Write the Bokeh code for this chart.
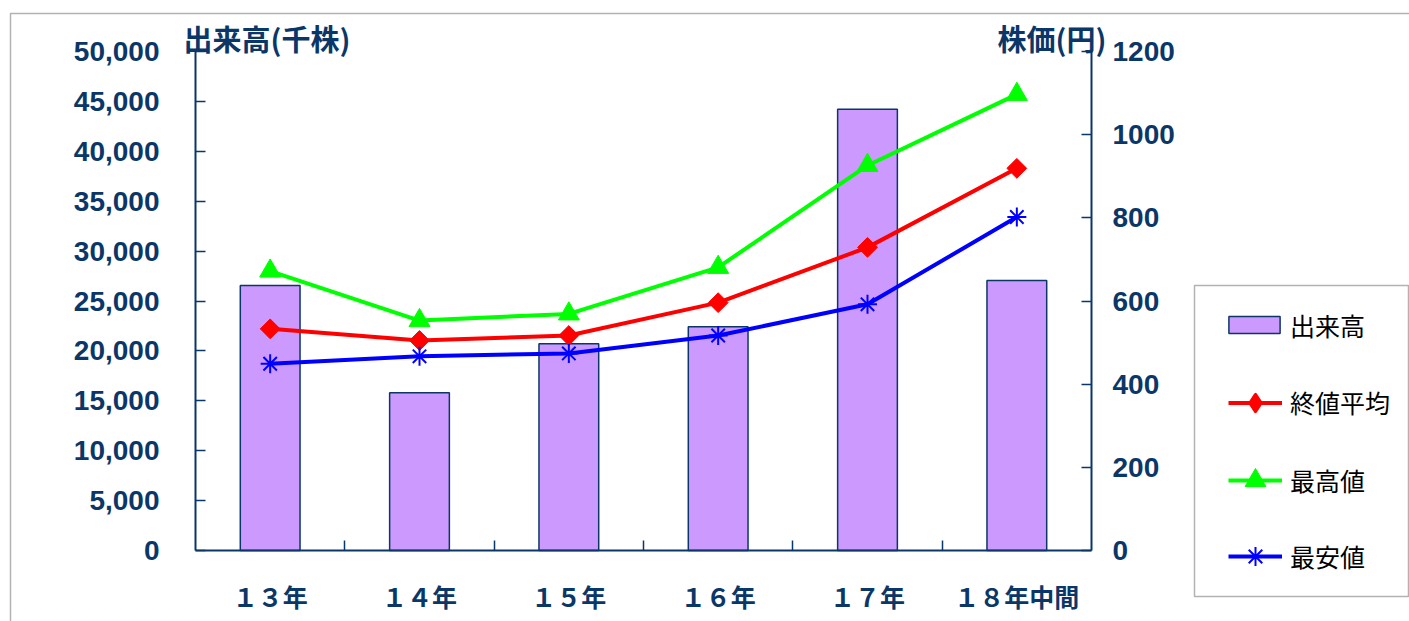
from math import pi
from bokeh.plotting import figure
from bokeh.models import (Range1d, LinearAxis, FixedTicker, NumeralTickFormatter,
                          Legend, LegendItem, Label, BoxAnnotation)
from bokeh.embed import file_html
from bokeh.resources import INLINE

categories = ["１３年", "１４年", "１５年", "１６年", "１７年", "１８年中間"]
volume = [26550, 15800, 20710, 22420, 44220, 27050]      # 出来高 (千株)
close_avg = [533, 505, 517, 596, 729, 919]                 # 終値平均 (円)
high = [672, 553, 569, 681, 926, 1097]                     # 最高値 (円)
low = [449, 467, 474, 517, 592, 802]                       # 最安値 (円)
left_ticks = list(range(0, 50001, 5000))
right_ticks = list(range(0, 1201, 200))
VOL_MAX = 50000
PRICE_MAX = 1200

NAVY = "#0B3768"
W, H = 1409, 621
# plot-area placement inside the canvas (pixels)
PX_L, PX_R, PX_T, PX_B = 195, 1091, 51, 550
n = len(categories)
xs = [i + 0.5 for i in range(n)]

cat_px = (PX_R - PX_L) / n
x_start = -PX_L / cat_px
x_end = n + (W - PX_R) / cat_px
ph = PX_B - PX_T
y_start = -(H - PX_B) / ph * VOL_MAX
y_end = VOL_MAX + PX_T / ph * VOL_MAX
p_start = -(H - PX_B) / ph * PRICE_MAX
p_end = PRICE_MAX + PX_T / ph * PRICE_MAX

p = figure(width=W, height=H, output_backend="svg", toolbar_location=None,
           x_range=Range1d(x_start, x_end), y_range=Range1d(y_start, y_end),
           x_axis_location=None, y_axis_location=None,
           min_border=0, background_fill_color="white", border_fill_color="white")
p.outline_line_color = None
p.xgrid.visible = False
p.ygrid.visible = False
p.extra_y_ranges = {"price": Range1d(p_start, p_end)}


def style_axis(ax):
    ax.axis_line_color = NAVY
    ax.axis_line_width = 2
    ax.major_tick_line_color = NAVY
    ax.major_tick_line_width = 1.5
    ax.minor_tick_line_color = None
    ax.major_label_text_color = NAVY


# left axis
ya = LinearAxis(fixed_location=0, bounds=(0, VOL_MAX),
                ticker=FixedTicker(ticks=left_ticks),
                formatter=NumeralTickFormatter(format="0,0"))
style_axis(ya)
ya.major_tick_in = 10
ya.major_tick_out = 0
ya.major_label_standoff = 36
ya.major_label_text_font = "Liberation Sans"
ya.major_label_text_font_style = "bold"
ya.major_label_text_font_size = "28px"
p.add_layout(ya, "left")

# right axis
ra = LinearAxis(y_range_name="price", fixed_location=n, bounds=(0, PRICE_MAX),
                ticker=FixedTicker(ticks=right_ticks))
style_axis(ra)
ra.major_tick_in = 10
ra.major_tick_out = 0
ra.major_label_standoff = 21
ra.major_label_text_font = "Liberation Sans"
ra.major_label_text_font_style = "bold"
ra.major_label_text_font_size = "28px"
p.add_layout(ra, "right")

# x axis
xa = LinearAxis(fixed_location=0, bounds=(0, n),
                ticker=FixedTicker(ticks=xs, minor_ticks=list(range(1, n))))
style_axis(xa)
xa.major_label_overrides = {xv: c for xv, c in zip(xs, categories)}
xa.major_tick_in = 0
xa.major_tick_out = 0
xa.minor_tick_in = 10
xa.minor_tick_out = 0
xa.minor_tick_line_color = NAVY
xa.minor_tick_line_width = 1.5
xa.major_label_standoff = 27
xa.major_label_text_font = "Noto Sans CJK JP"
xa.major_label_text_font_style = "bold"
xa.major_label_text_font_size = "25px"
p.add_layout(xa, "below")

bars = p.vbar(x=xs, top=volume, width=0.4, fill_color="#CC99FF",
              line_color=NAVY, line_width=1.5)

l1 = p.line(xs, close_avg, y_range_name="price", line_color="#FF0000", line_width=4)
s1 = p.scatter(xs, close_avg, y_range_name="price", marker="square", angle=pi / 4,
               size=14, fill_color="#FF0000", line_color="#FF0000")
# legend markers are drawn without rotation, so the legend uses a diamond marker
s1_key = p.scatter(xs, close_avg, y_range_name="price", marker="diamond",
                   fill_color="#FF0000", line_color="#FF0000", line_width=3,
                   line_join="round", visible=False)
l2 = p.line(xs, high, y_range_name="price", line_color="#00FF00", line_width=4)
s2 = p.scatter(xs, high, y_range_name="price", marker="triangle", size=21,
               fill_color="#00FF00", line_color="#00FF00")
l3 = p.line(xs, low, y_range_name="price", line_color="#0000FF", line_width=4)
s3 = p.scatter(xs, low, y_range_name="price", marker="asterisk", size=19,
               line_color="#0000FF", line_width=2)

# legend: one Legend per entry (each needs its own glyph size), framed by a box
legend_specs = [
    # label, renderers, glyph_w, glyph_h, label_h, x_left, y_center, standoff
    ("出来高", [bars], 64, 21, 21, 1222, 332, 4),
    ("終値平均", [l1, s1_key], 54, 43, 25, 1228, 402, 8),
    ("最高値", [l2, s2], 54, 52, 25, 1228, 480, 8),
    ("最安値", [l3, s3], 54, 48, 25, 1228, 556, 8),
]
for label, rends, gw, gh, lh, lx, cy, so in legend_specs:
    hh = max(gh, lh)
    lg = Legend(items=[LegendItem(label=label, renderers=rends)],
                location=(lx, H - cy - hh / 2), margin=0, padding=0, spacing=0,
                glyph_width=gw, glyph_height=gh, label_height=lh, label_standoff=so,
                label_text_font="Noto Sans CJK JP", label_text_font_size="25px",
                label_text_color="black", label_text_baseline="middle",
                border_line_color=None, background_fill_alpha=0)
    p.add_layout(lg)

p.add_layout(BoxAnnotation(left=1194, right=1408, top=H - 285, bottom=H - 596,
                           left_units="screen", right_units="screen",
                           top_units="screen", bottom_units="screen",
                           fill_alpha=0, line_color="black", line_width=1.5))

p.add_layout(Label(x=183, y=H - 37, x_units="screen", y_units="screen",
                   text="出来高(千株)", text_font="Noto Sans CJK JP",
                   text_font_style="bold", text_font_size="29px",
                   text_color=NAVY, text_baseline="middle", text_align="left"))
p.add_layout(Label(x=1106, y=H - 37, x_units="screen", y_units="screen",
                   text="株価(円)", text_font="Noto Sans CJK JP",
                   text_font_style="bold", text_font_size="29px",
                   text_color=NAVY, text_baseline="middle", text_align="right"))

p.add_layout(BoxAnnotation(left=10, right=W + 100, top=H - 13, bottom=-100,
                           left_units="screen", right_units="screen",
                           top_units="screen", bottom_units="screen",
                           fill_alpha=0, line_color="black", line_width=1.5))

open("out.html", "w").write(file_html(p, INLINE))
